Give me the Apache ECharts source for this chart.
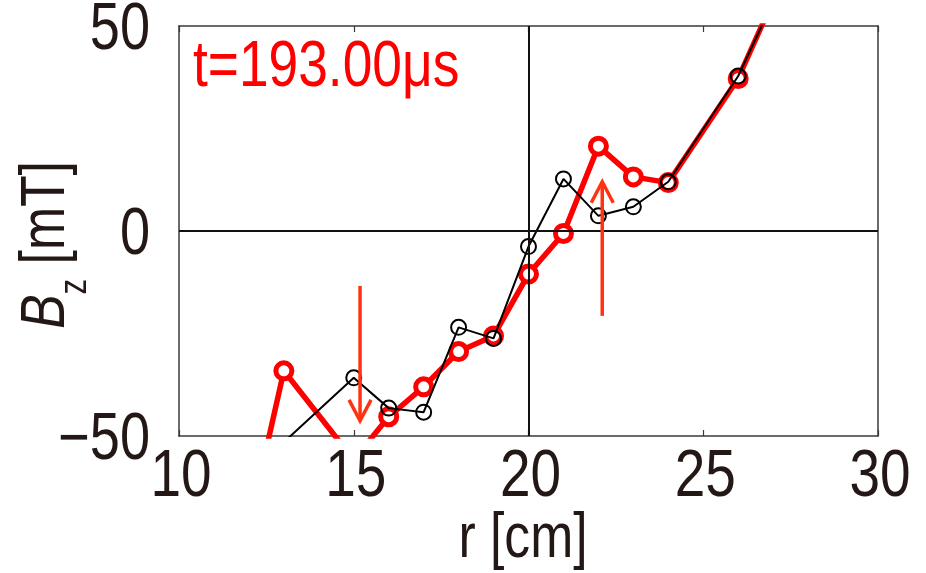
<!DOCTYPE html>
<html>
<head>
<meta charset="utf-8">
<script src="https://cdn.jsdelivr.net/npm/echarts@6/dist/echarts.min.js"></script>
<style>html,body{margin:0;padding:0;background:#fff;}#c{width:926px;height:573px;}</style>
</head>
<body>
<div id="c"></div>
<script>
// Data
var rRed   = [12, 13, 15, 16, 17, 18, 19, 20, 21, 22, 23, 24, 26, 27];
var bzRed  = [-72, -34.1, -55.8, -45.3, -38.0, -29.4, -25.6, -10.5, -0.6, 20.7, 13.2, 11.8, 37.2, 56.3];
var rBlack  = [13, 15, 16, 17, 18, 19, 20, 21, 22, 23, 24, 26, 27];
var bzBlack = [-51.5, -35.8, -43.2, -44.2, -23.5, -26.2, -3.8, 12.7, 3.7, 5.9, 12.0, 37.8, 56];
var arrowR    = [15.18, 22.11];
var arrowTail = [-13.4, -20.7];
var arrowTip  = [-46.3, 12.0];
var xTicks = [10, 15, 20, 25, 30];
var yTicks = [-50, 0, 50];
var xTickLabels = ['10', '15', '20', '25', '30'];
var yTickLabels = ['\u221250', '0', '50'];
var timeLabel = 't=193.00\u03bcs';
var xName = 'r [cm]';

var FONT = "'Liberation Sans', Arial, sans-serif";
var TXT = '#231815';
var NARROW = 0.82;

function pairs(xs, ys) { return xs.map(function (x, i) { return [x, ys[i]]; }); }
var arrowData = arrowR.map(function (x, i) { return [x, arrowTail[i], arrowTip[i]]; });
var xLabelData = xTicks.map(function (v) { return [v, yTicks[0]]; });
var yLabelData = yTicks.map(function (v) { return [xTicks[0], v]; });

var chart = echarts.init(document.getElementById('c'));
chart.setOption({
  animation: false,
  backgroundColor: '#fff',
  grid: { left: 179, right: 48, top: 26, bottom: 137, show: false, containLabel: false, outerBoundsMode: 'none' },
  xAxis: [{
    type: 'value', min: xTicks[0], max: xTicks[xTicks.length - 1], interval: 5, position: 'bottom',
    axisLine: { show: true, onZero: false, lineStyle: { color: '#3a3a3a', width: 1.5 } },
    axisTick: { show: true, inside: true, length: 6, lineStyle: { color: '#3a3a3a', width: 1.2 } },
    axisLabel: { show: false }, splitLine: { show: false }
  }, {
    type: 'value', min: xTicks[0], max: xTicks[xTicks.length - 1], interval: 5, position: 'top',
    axisLine: { show: true, onZero: false, lineStyle: { color: '#3a3a3a', width: 1.5 } },
    axisTick: { show: true, inside: true, length: 6, lineStyle: { color: '#3a3a3a', width: 1.2 } },
    axisLabel: { show: false }, splitLine: { show: false }
  }],
  yAxis: [{
    type: 'value', min: yTicks[0], max: yTicks[yTicks.length - 1], interval: 50, position: 'left',
    axisLine: { show: true, onZero: false, lineStyle: { color: '#3a3a3a', width: 1.5 } },
    axisTick: { show: false }, axisLabel: { show: false }, splitLine: { show: false }
  }, {
    type: 'value', min: yTicks[0], max: yTicks[yTicks.length - 1], interval: 50, position: 'right',
    axisLine: { show: true, onZero: false, lineStyle: { color: '#3a3a3a', width: 1.5 } },
    axisTick: { show: false }, axisLabel: { show: false }, splitLine: { show: false }
  }],
  graphic: [{
    type: 'text', x: 193, y: 36, scaleX: NARROW, z: 100,
    style: { text: timeLabel, fontSize: 65, fontFamily: FONT, fill: '#ff0000', align: 'left', verticalAlign: 'top' }
  }, {
    type: 'text', x: 523, y: 540, scaleX: NARROW, z: 100,
    style: { text: xName, fontSize: 63, fontFamily: FONT, fill: TXT, align: 'center', verticalAlign: 'middle' }
  }, {
    type: 'text', x: 76, y: 245, rotation: Math.PI / 2, scaleX: NARROW, z: 100,
    style: {
      text: '{b|B}{s|z}{n| [mT]}', align: 'center', verticalAlign: 'middle', fill: TXT,
      rich: {
        b: { fontSize: 63, fontStyle: 'italic', fontFamily: FONT, fill: TXT, lineHeight: 63, verticalAlign: 'top' },
        s: { fontSize: 38, fontFamily: FONT, fill: TXT, lineHeight: 122, verticalAlign: 'middle' },
        n: { fontSize: 63, fontFamily: FONT, fill: TXT, lineHeight: 63, verticalAlign: 'top' }
      }
    }
  }],
  series: [{
    type: 'line', name: 'ref', data: [], silent: true,
    markLine: {
      silent: true, symbol: ['none', 'none'], label: { show: false },
      lineStyle: { color: '#111', width: 2, type: 'solid' },
      data: [{ xAxis: 20 }, { yAxis: 0 }]
    }
  }, {
    type: 'line', name: 'red', data: pairs(rRed, bzRed), clip: true,
    lineStyle: { color: '#ff0000', width: 5.5 },
    symbol: 'circle', symbolSize: 16,
    itemStyle: { color: '#ffffff', borderColor: '#ff0000', borderWidth: 5 },
    z: 3
  }, {
    type: 'line', name: 'black', data: pairs(rBlack, bzBlack), clip: true,
    lineStyle: { color: '#000000', width: 2 },
    symbol: 'circle', symbolSize: 15,
    itemStyle: { color: 'rgba(0,0,0,0)', borderColor: '#000000', borderWidth: 2 },
    z: 4
  }, {
    type: 'custom', name: 'arrows', data: arrowData, z: 5, silent: true,
    renderItem: function (params, api) {
      var p0 = api.coord([api.value(0), api.value(1)]);
      var p1 = api.coord([api.value(0), api.value(2)]);
      var dir = p1[1] > p0[1] ? 1 : -1;
      var st = { stroke: '#ff3311', lineWidth: 3.5, fill: 'none' };
      return { type: 'group', children: [
        { type: 'line', shape: { x1: p0[0], y1: p0[1], x2: p1[0], y2: p1[1] }, style: st },
        { type: 'polyline', shape: { points: [[p1[0] - 11, p1[1] - dir * 21], [p1[0], p1[1]], [p1[0] + 11, p1[1] - dir * 21]] }, style: st }
      ] };
    }
  }, {
    type: 'custom', name: 'xTickLabels', data: xLabelData, z: 6, silent: true, clip: false,
    renderItem: function (params, api) {
      var p = api.coord([api.value(0), api.value(1)]);
      return { type: 'text', x: p[0] + 2, y: p[1] + 8, scaleX: NARROW,
        style: { text: xTickLabels[params.dataIndex], fontSize: 67, fontFamily: FONT, fill: TXT, align: 'center', verticalAlign: 'top' } };
    }
  }, {
    type: 'custom', name: 'yTickLabels', data: yLabelData, z: 6, silent: true, clip: false,
    renderItem: function (params, api) {
      var p = api.coord([api.value(0), api.value(1)]);
      return { type: 'text', x: p[0] - 29, y: p[1] + 5, scaleX: NARROW,
        style: { text: yTickLabels[params.dataIndex], fontSize: 66, fontFamily: FONT, fill: TXT, align: 'right', verticalAlign: 'middle' } };
    }
  }]
});
</script>
</body>
</html>
